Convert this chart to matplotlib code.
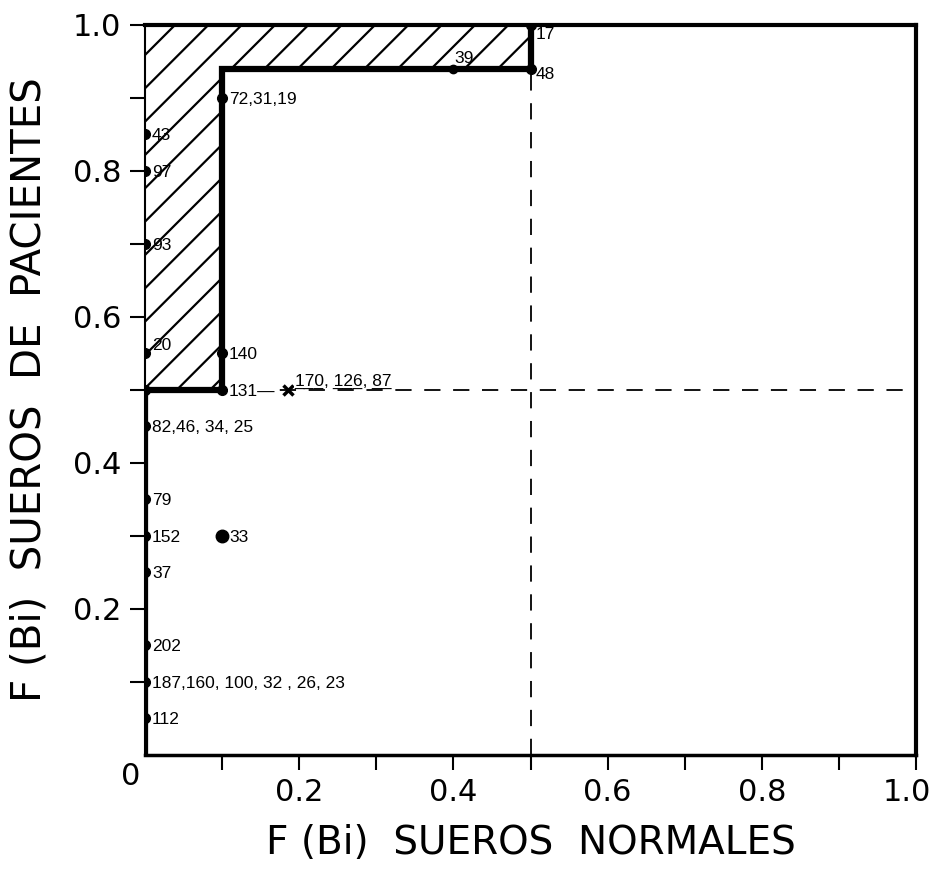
import numpy as np
import matplotlib
matplotlib.use("Agg")
from matplotlib import pyplot as plt
from matplotlib.transforms import ScaledTranslation

plt.rcParams['font.family'] = ['DejaVu Sans']
plt.rcParams['hatch.linewidth'] = 1.6

# step curve (fraction normals vs fraction patients)
step_x = [0, 0, 0.1, 0.1, 0.5, 0.5]
step_y = [0, 0.5, 0.5, 0.94, 0.94, 1.0]

# sera on x = 0
col0_y = [0.05, 0.10, 0.15, 0.25, 0.30, 0.35, 0.45, 0.50, 0.55, 0.70, 0.80, 0.85]
col0_lab = ['112', '187,160, 100, 32 , 26, 23', '202', '37', '152', '79',
            '82,46, 34, 25', '', '20', '93', '97', '43']

# other sera
pts_x = [0.1, 0.1, 0.1, 0.1, 0.4, 0.5, 0.5]
pts_y = [0.30, 0.50, 0.55, 0.90, 0.94, 0.94, 1.0]
pts_lab = ['33', '131\u2014', '140', '72,31,19', '39', '48', '17']
pts_size = [9, 7, 7, 7, 6, 7, 7]

cross_x, cross_y = 0.185, 0.5
cross_lab = '170, 126, 87'

small = dict(fontsize=12.5, family='Liberation Sans')

fig = plt.figure(figsize=(9.37, 8.88), dpi=100)
ax = fig.add_axes([0.1547, 0.150, 0.823, 0.822])
ax.set_xlim(0, 1)
ax.set_ylim(0, 1)

# hatched zone
ax.fill_between(step_x[1:], step_y[1:], 1, facecolor='none', edgecolor='black',
                hatch='/', linewidth=0)

# dashed guides
ax.plot([0.1, 1.0], [0.5, 0.5], color='black', lw=1.3, dashes=(9, 7))
ax.plot([0.5, 0.5], [0, 0.94], color='black', lw=1.3, dashes=(9, 7))

ax.plot(step_x, step_y, color='black', lw=4.5, solid_joinstyle='miter')

ax.plot(np.zeros(len(col0_y)), col0_y, 'o', color='black', ms=7)
for y, lab in zip(col0_y, col0_lab):
    dy = 6 if lab == '20' else -1
    ax.annotate(lab, (0, y), xytext=(5, dy), textcoords='offset points',
                va='center', ha='left', **small)

for x, y, lab, s in zip(pts_x, pts_y, pts_lab, pts_size):
    ax.plot(x, y, 'o', color='black', ms=s)
    off = {'39': (1, 7), '48': (4, -4), '17': (4, -7)}.get(lab, (5, -1))
    bb = dict(facecolor='white', edgecolor='none', pad=0.5) if lab.startswith('131') else None
    ax.annotate(lab, (x, y), xytext=off, textcoords='offset points',
                va='center', ha='left', bbox=bb, **small)

ax.plot(cross_x, cross_y, 'x', color='black', ms=7, mew=2.5)
ax.annotate(cross_lab, (cross_x, cross_y), xytext=(5, 3), textcoords='offset points',
            va='baseline', ha='left',
            bbox=dict(facecolor='white', edgecolor='none', pad=0.5), **small)
ax.annotate('___  ___  __', (cross_x, cross_y), xytext=(5, 3), textcoords='offset points',
            va='baseline', ha='left', **small)

# frame
ax.spines['top'].set_linewidth(3)
ax.spines['right'].set_linewidth(3)
ax.spines['bottom'].set_linewidth(2.5)
ax.spines['left'].set_linewidth(1.5)

ax.set_xticks(np.arange(0.1, 1.01, 0.1))
ax.set_xticklabels(['', '0.2', '', '0.4', '', '0.6', '', '0.8', '', '1.0'])
ax.set_yticks(np.arange(0.1, 1.01, 0.1))
ax.set_yticklabels(['', '0.2', '', '0.4', '', '0.6', '', '0.8', '', '1.0'])
ax.tick_params(axis='both', direction='out', length=11, width=1.5, labelsize=22, pad=6)
last = ax.get_xticklabels()[-1]
last.set_transform(last.get_transform() + ScaledTranslation(-7 / 72, 0, fig.dpi_scale_trans))
ax.text(-0.006, -0.01, '0', ha='right', va='top', fontsize=22, transform=ax.transAxes)

ax.set_xlabel('F (Bi)  SUEROS  NORMALES', fontsize=28, labelpad=12)
ax.set_ylabel('F (Bi)  SUEROS  DE  PACIENTES', fontsize=29, labelpad=17)

fig.savefig('out.png', dpi=100)
